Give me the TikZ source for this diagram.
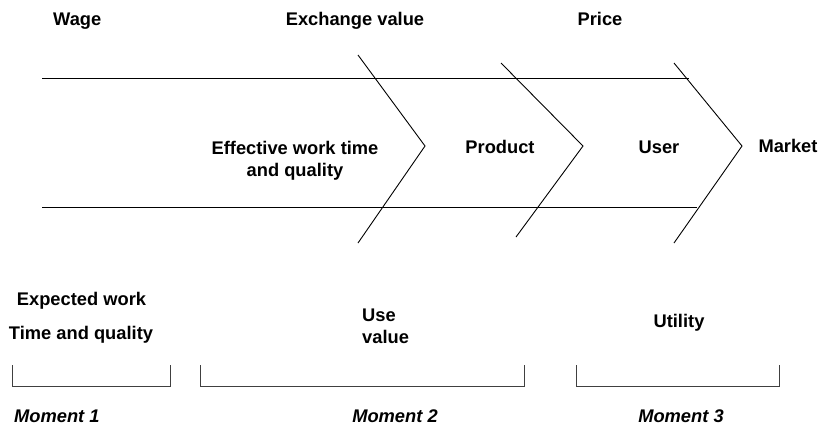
\documentclass[tikz,border=0pt]{standalone}
\usepackage{fontspec}
\setmainfont{Liberation Sans}
\begin{document}
\begin{tikzpicture}[x=1pt,y=-1pt,
  lbl/.style={font=\fontsize{18.3}{22}\selectfont\bfseries, inner sep=0pt, anchor=base},
  lblL/.style={lbl, anchor=base west},
  mom/.style={font=\fontsize{18.3}{22}\selectfont\bfseries\itshape, inner sep=0pt, anchor=base},
  edge/.style={line width=0.9pt, black},
  brk/.style={line width=0.9pt, black!75}]
\useasboundingbox[fill=white] (0,0) rectangle (822,432);
% rails
\coordinate (t1) at (42,78);  \coordinate (t2) at (689,78);
\coordinate (b1) at (42,207); \coordinate (b2) at (697,207);
\draw[edge] (t1) -- (t2);
\draw[edge] (b1) -- (b2);
% chevrons
\coordinate (c1a) at (358,55);  \coordinate (c1t) at (425,146); \coordinate (c1b) at (358,243);
\coordinate (c2a) at (501,63);  \coordinate (c2t) at (583,146); \coordinate (c2b) at (516,237);
\coordinate (c3a) at (674,63);  \coordinate (c3t) at (742,146); \coordinate (c3b) at (674,243);
\draw[edge] (c1a) -- (c1t) -- (c1b);
\draw[edge] (c2a) -- (c2t) -- (c2b);
\draw[edge] (c3a) -- (c3t) -- (c3b);
% top labels
\node[lblL] (wage) at (53,25) {Wage};
\node[lbl] (exch) at (355,25) {Exchange value};
\node[lbl] (price) at (600,25) {Price};
% middle labels
\node[lbl] (eff1) at (295,154) {Effective work time};
\node[lbl] (eff2) at (295,176) {and quality};
\node[lbl] (prod) at (500,153) {Product};
\node[lbl] (user) at (659,153) {User};
\node[lbl] (mkt) at (788,152) {Market};
% lower labels
\node[lbl] (exp1) at (81.5,305) {Expected work};
\node[lbl] (exp2) at (81,339) {Time and quality};
\node[lblL] (use1) at (362,321) {Use};
\node[lblL] (use2) at (362,343) {value};
\node[lbl] (util) at (679,327) {Utility};
% brackets
\coordinate (k1a) at (12,365);  \coordinate (k1b) at (170,365);
\coordinate (k2a) at (200,365); \coordinate (k2b) at (524,365);
\coordinate (k3a) at (576,365); \coordinate (k3b) at (779,365);
\draw[brk] (k1a) -- ++(0,21) -| (k1b);
\draw[brk] (k2a) -- ++(0,21) -| (k2b);
\draw[brk] (k3a) -- ++(0,21) -| (k3b);
% moments
\node[mom, anchor=base west] (m1) at (14,422) {Moment 1};
\node[mom] (m2) at (395,422) {Moment 2};
\node[mom] (m3) at (681,422) {Moment 3};
\end{tikzpicture}
\end{document}
